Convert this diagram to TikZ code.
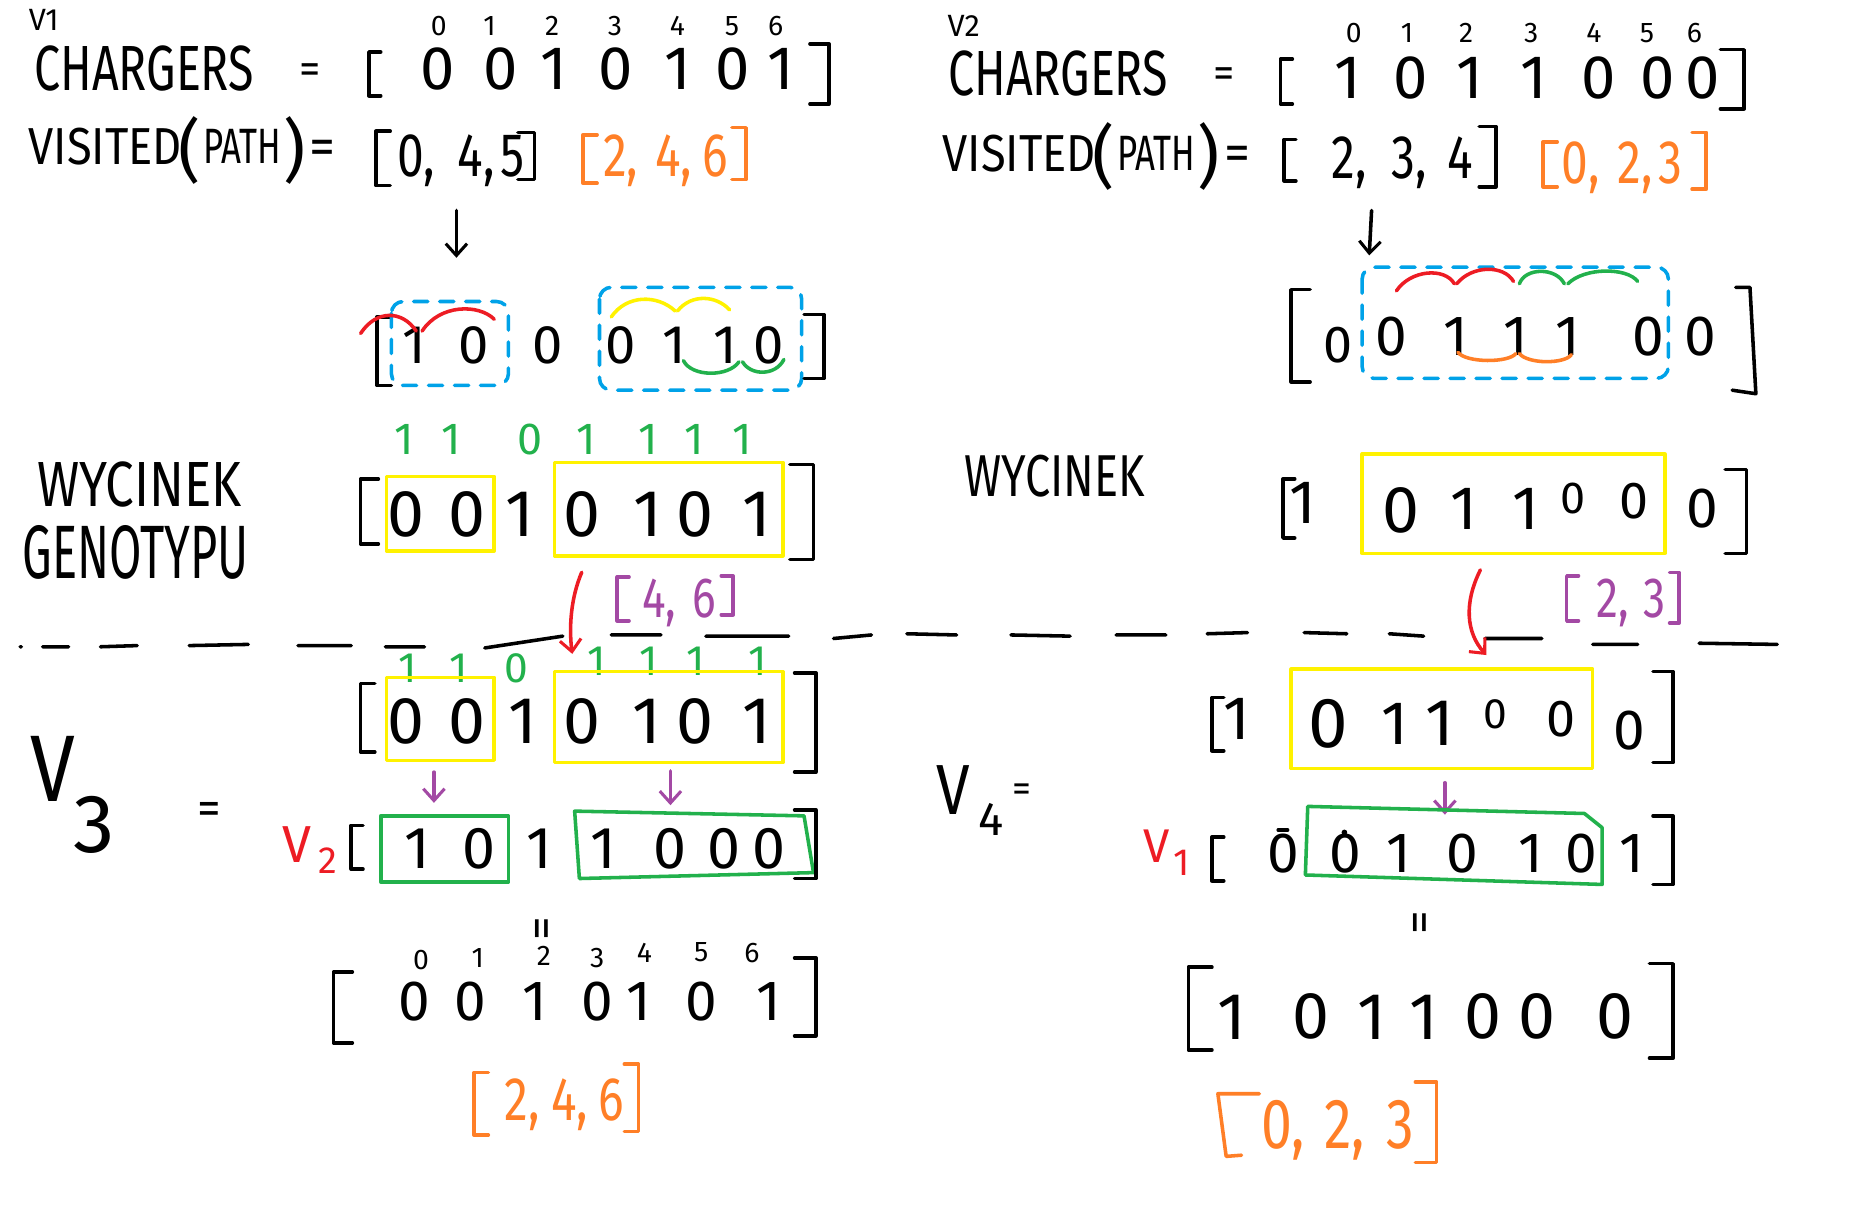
\documentclass[tikz,border=0pt]{standalone}
\usepackage{fontspec}
\setmainfont{Fira Sans}
\usetikzlibrary{arrows.meta}
\definecolor{pred}{RGB}{237,28,36}
\definecolor{pyel}{RGB}{255,242,0}
\definecolor{pgreen}{RGB}{34,177,76}
\definecolor{porange}{RGB}{255,127,39}
\definecolor{ppurple}{RGB}{163,73,164}
\definecolor{pblue}{RGB}{0,162,232}
\newcommand\fs[1]{\fontsize{#1}{#1}\selectfont}
\newcommand\nx[2]{\scalebox{#1}[1]{#2}}
\newcommand\lbr[5][black]{\draw[pen,#1] ({#2+#5},#3) -- (#2,#3) -- (#2,#4) -- ({#2+#5},#4);}
\newcommand\rbr[5][black]{\draw[pen,#1] ({#2-#5},#3) -- (#2,#3) -- (#2,#4) -- ({#2-#5},#4);}
\newcommand\drow[4]{\foreach \xx/\vv [count=\ii] in {#4} \node[#3] (#1\ii) at (\xx,#2) {\vv};}
\newcommand\clist[4]{\foreach \xx/\vv [count=\ii] in {#4} \node[#3,anchor=base west] (#1\ii) at (\xx,#2) {\nx{0.78}{\vv}};}
\tikzset{
  pen/.style={line width=1.5pt, line cap=round, line join=round},
  txt/.style={inner sep=0pt, outer sep=0pt, anchor=center},
  tip/.style={-{Straight Barb[length=5pt,width=9pt,line width=1.3pt]}},
  ybox/.style={pen, draw=pyel},
  gbox/.style={pen, draw=pgreen},
  bdash/.style={pen, draw=pblue, dash pattern=on 6pt off 5pt, rounded corners=5pt},
  idx/.style={txt, font=\fs{12}},
}
\begin{document}
\begin{tikzpicture}[x=0.5pt,y=-0.5pt]
\useasboundingbox[fill=white] (0,0) rectangle (1568,1027);

% ================= V1 (top left) =================
\node[txt,font=\fs{13}] (v1) at (37,17) {V1};
\node[txt,font=\fs{27}] (ch1) at (122,58) {\nx{0.73}{CHARGERS}};
\node[txt,font=\fs{18}] (eq1) at (262,62) {=};
\lbr{312}{44}{81}{10}
\drow{ca}{58}{txt,font=\fs{26}}{370/0,423/0,468/1,521/0,573/1,620/0,660/1}
\drow{ia}{22}{idx}{371/0,414/1,467/2,520/3,573/4,619/5,656/6}
\rbr{701}{37}{88}{16}
\node[txt,font=\fs{22}] (vis1) at (89,124) {\nx{0.87}{VISITED}};
\node[txt,font=\fs{29}] (pl1) at (160,127) {(};
\node[txt,font=\fs{21}] (path1) at (205,124) {\nx{0.7}{PATH}};
\node[txt,font=\fs{29}] (pr1) at (249,127) {)};
\node[txt,font=\fs{22}] (eq2) at (273,129) {=};
\lbr{318}{111}{157}{12}
\clist{pa}{149}{txt,font=\fs{26}}{336/{0,},387/{4,},423/5}
\rbr{452}{112}{152}{14}
\lbr[porange]{493}{114}{155}{12}
\clist{oa}{149}{txt,font=\fs{26},text=porange}{510/{2,},554/{4,},594/6}
\rbr[porange]{631}{108}{152}{12}
\coordinate (a1s) at (386,178);
\coordinate (a1e) at (386,218);
\draw[pen,tip] (a1s) -- (a1e);

% row 2 left
\lbr{319}{268}{326}{12}
\draw[bdash] (331,255) rectangle (430,326);
\draw[bdash] (507,243) rectangle (678,330);
\drow{ra}{292}{txt,font=\fs{23}}{350/1,401/0,463/0,525/0,570/1,613/1,650/0}
\draw[pen,pred] (305,282) .. controls (318,262) and (340,262) .. (352,280);
\draw[pen,pred] (357,280) .. controls (372,257) and (405,257) .. (418,270);
\draw[pen,pyel] (517,268) .. controls (530,249) and (556,249) .. (571,263);
\draw[pen,pyel] (573,263) .. controls (585,248) and (606,250) .. (617,262);
\draw[pen,pgreen] (578,305) .. controls (585,319) and (616,319) .. (625,306);
\draw[pen,pgreen] (628,306) .. controls (635,318) and (656,318) .. (663,304);
\rbr{697}{266}{320}{17}

% row 3 left
\node[txt,font=\fs{27}] (wy1) at (118,410) {\nx{0.8}{WYCINEK}};
\node[txt,font=\fs{32}] (gen1) at (115,467) {\nx{0.62}{GENOTYPU}};
\drow{ga}{372}{txt,font=\fs{19},text=pgreen}{342/1,382/1,448/0,496/1,548/1,587/1,628/1}
\lbr{305}{405}{460}{15}
\draw[ybox] (327,403) rectangle (418,466);
\draw[ybox] (469,391) rectangle (662,470);
\drow{wa}{435}{txt,font=\fs{28}}{343/0,395/0,440/1,492/0,548/1,588/0,640/1}
\rbr{688}{393}{473}{20}
\coordinate (r1s) at (492,484);
\coordinate (r1e) at (484,553);
\draw[pen,pred,tip] (r1s) .. controls (483,505) and (481,530) .. (r1e);
\lbr[ppurple]{522}{488}{525}{10}
\clist{pp}{522}{txt,font=\fs{24},text=ppurple}{543/{4,},586/6}
\rbr[ppurple]{620}{487}{520}{10}

% ================= dashed separator =================
\draw[pen] (17,547) -- (18,547)
  (36,547) -- (58,547) (85,547) -- (116,546) (160,546) -- (210,545)
  (252,546) -- (297,546) (326,547) -- (359,547) (410,548) -- (476,538)
  (517,537) -- (559,537) (597,538) -- (667,538) (705,540) -- (737,537)
  (767,536) -- (809,537) (855,537) -- (905,538) (944,537) -- (986,537)
  (1021,536) -- (1055,535) (1103,535) -- (1139,536) (1175,536) -- (1204,538)
  (1256,540) -- (1304,540) (1347,545) -- (1385,545) (1437,544) -- (1503,545);

% ================= V3 (bottom left) =================
\drow{gb}{565}{txt,font=\fs{18},text=pgreen}{345/1,388/1,437/0}
\drow{gc}{559}{txt,font=\fs{18},text=pgreen}{505/1,549/1,588/1,641/1}
\lbr{305}{578}{636}{12}
\draw[ybox] (327,573) rectangle (418,643);
\draw[ybox] (469,568) rectangle (662,645);
\drow{ba}{610}{txt,font=\fs{28}}{343/0,395/0,442/1,492/0,547/1,588/0,640/1}
\rbr{690}{569}{653}{18}
\coordinate (p1s) at (367,653);
\coordinate (p1e) at (367,679);
\draw[pen,ppurple,tip] (p1s) -- (p1e);
\coordinate (p2s) at (567,652);
\coordinate (p2e) at (567,681);
\draw[pen,ppurple,tip] (p2s) -- (p2e);
\node[txt,font=\fs{40}] (v3v) at (45,650) {\nx{0.85}{V}};
\node[txt,font=\fs{35}] (v3n) at (80,698) {3};
\node[txt,font=\fs{20}] (eq3) at (177,688) {=};
\node[txt,font=\fs{22},text=pred] (v2v) at (251,714) {V};
\node[txt,font=\fs{16},text=pred] (v2n) at (277,728) {2};
\lbr{297}{698}{735}{10}
\draw[gbox] (322,690) rectangle (430,746);
\draw[gbox] (486,686) -- (680,690) -- (688,738) -- (490,743) -- cycle;
\drow{bb}{718}{txt,font=\fs{25}}{353/1,405/0,456/1,510/1,567/0,612/0,650/0}
\rbr{690}{685}{743}{18}
\node[txt,font=\fs{20},rotate=90] (eq4) at (462,785) {=};
\foreach \xx/\yy/\vv [count=\ii] in {356/812/0,404/810/1,460/808/2,505/810/3,545/806/4,593/805/5,636/806/6}
  \node[idx] (ib\ii) at (\xx,\yy) {\vv};
\lbr{282}{822}{882}{16}
\drow{fa}{847}{txt,font=\fs{24}}{350/0,398/0,452/1,505/0,540/1,593/0,650/1}
\rbr{690}{810}{876}{18}
\lbr[porange]{401}{907}{960}{12}
\clist{ob}{948}{txt,font=\fs{26},text=porange}{427/{2,},466/{4,},506/6}
\rbr[porange]{540}{900}{957}{12}

% ================= V2 (top right) =================
\node[txt,font=\fs{13}] (v2) at (815,22) {V2};
\node[txt,font=\fs{27}] (ch2) at (895,62) {\nx{0.73}{CHARGERS}};
\node[txt,font=\fs{18}] (eq5) at (1035,66) {=};
\lbr{1083}{50}{88}{10}
\drow{ic}{28}{idx}{1145/0,1190/1,1240/2,1295/3,1348/4,1393/5,1433/6}
\drow{cc}{66}{txt,font=\fs{26}}{1140/1,1193/0,1243/1,1297/1,1352/0,1402/0,1440/0}
\rbr{1475}{42}{92}{20}
\node[txt,font=\fs{22}] (vis2) at (862,130) {\nx{0.87}{VISITED}};
\node[txt,font=\fs{29}] (pl2) at (933,132) {(};
\node[txt,font=\fs{21}] (path2) at (978,130) {\nx{0.7}{PATH}};
\node[txt,font=\fs{29}] (pr2) at (1022,132) {)};
\node[txt,font=\fs{22}] (eq6) at (1047,134) {=};
\lbr{1086}{118}{153}{10}
\clist{pc}{151}{txt,font=\fs{26}}{1126/{2,},1177/{3,},1224/4}
\rbr{1265}{107}{158}{14}
\lbr[porange]{1305}{120}{158}{12}
\clist{oc}{155}{txt,font=\fs{26},text=porange}{1321/{0,},1368/{2,},1403/3}
\rbr[porange]{1443}{112}{160}{12}
\coordinate (a2s) at (1160,178);
\coordinate (a2e) at (1158,216);
\draw[pen,tip] (a2s) -- (a2e);

% row 2 right
\lbr{1092}{245}{323}{16}
\node[txt,font=\fs{22}] (rz) at (1132,292) {0};
\draw[bdash] (1152,226) rectangle (1411,320);
\drow{rc}{285}{txt,font=\fs{24}}{1177/0,1231/1,1282/1,1326/1,1394/0,1438/0}
\draw[pen,pred] (1181,246) .. controls (1193,228) and (1222,226) .. (1230,240);
\draw[pen,pred] (1232,240) .. controls (1245,224) and (1272,224) .. (1280,238);
\draw[pen,pgreen] (1285,240) .. controls (1290,226) and (1316,226) .. (1323,240);
\draw[pen,pgreen] (1326,240) .. controls (1340,226) and (1376,226) .. (1385,238);
\draw[pen,porange] (1233,298) .. controls (1240,307) and (1276,307) .. (1282,299);
\draw[pen,porange] (1285,299) .. controls (1292,308) and (1323,308) .. (1329,300);
\draw[pen] (1468,243) -- (1480,243) -- (1485,333) -- (1465,330);

% row 3 right
\node[txt,font=\fs{25}] (wy2) at (892,403) {\nx{0.76}{WYCINEK}};
\lbr{1085}{405}{455}{10}
\node[txt,font=\fs{26}] (w1) at (1102,425) {1};
\draw[ybox] (1152,384) rectangle (1408,468);
\node[txt,font=\fs{28}] (w2) at (1185,432) {0};
\node[txt,font=\fs{26}] (w3) at (1238,430) {1};
\node[txt,font=\fs{26}] (w4) at (1290,430) {1};
\node[txt,font=\fs{19}] (w5) at (1330,422) {0};
\node[txt,font=\fs{22}] (w6) at (1382,424) {0};
\node[txt,font=\fs{24}] (w7) at (1440,430) {0};
\rbr{1477}{397}{468}{18}
\coordinate (r2s) at (1252,482);
\coordinate (r2e) at (1257,554);
\draw[pen,pred,tip] (r2s) .. controls (1238,510) and (1240,535) .. (r2e);
\lbr[ppurple]{1325}{487}{525}{10}
\clist{pq}{522}{txt,font=\fs{24},text=ppurple}{1350/{2,},1390/3}
\rbr[ppurple]{1420}{484}{527}{8}

% ================= V4 (bottom right) =================
\lbr{1025}{590}{635}{10}
\node[txt,font=\fs{26}] (x1) at (1046,608) {1};
\draw[ybox] (1092,566) rectangle (1347,650);
\node[txt,font=\fs{30}] (x2) at (1123,612) {0};
\node[txt,font=\fs{26}] (x3) at (1180,612) {1};
\node[txt,font=\fs{28}] (x4) at (1218,612) {1};
\node[txt,font=\fs{18}] (x5) at (1265,604) {0};
\node[txt,font=\fs{22}] (x6) at (1320,608) {0};
\node[txt,font=\fs{24}] (x7) at (1378,618) {0};
\rbr{1415}{568}{645}{17}
\node[txt,font=\fs{30}] (v4v) at (806,668) {\nx{0.85}{V}};
\node[txt,font=\fs{20}] (v4n) at (838,693) {4};
\node[txt,font=\fs{16}] (eq7) at (864,670) {=};
\coordinate (p3s) at (1222,662);
\coordinate (p3e) at (1222,689);
\draw[pen,ppurple,tip] (p3s) -- (p3e);
\node[txt,font=\fs{20},text=pred] (v1v) at (978,716) {V};
\node[txt,font=\fs{16},text=pred] (v1n) at (999,730) {1};
\lbr{1025}{708}{745}{10}
\draw[gbox] (1106,682) -- (1340,688) -- (1355,700) -- (1355,748) -- (1104,740) -- cycle;
\drow{yc}{722}{txt,font=\fs{24}}{1085/0,1138/0,1183/1,1237/0,1295/1,1337/0,1380/1}
\draw[pen] (1081,702) -- (1089,702);
\fill (1137,704) circle (1.2pt);
\rbr{1415}{690}{748}{17}
\node[txt,font=\fs{20},rotate=90] (eq8) at (1205,780) {=};
\lbr{1005}{818}{888}{20}
\drow{fc}{860}{txt,font=\fs{28}}{1042/1,1109/0,1160/1,1204/1,1254/0,1300/0,1366/0}
\rbr{1415}{815}{895}{20}
\draw[pen,porange] (1065,925) -- (1030,925) -- (1037,978) -- (1050,977);
\clist{od}{971}{txt,font=\fs{30},text=porange}{1067/{0,},1120/{2,},1173/3}
\rbr[porange]{1215}{915}{983}{18}
\end{tikzpicture}
\end{document}
